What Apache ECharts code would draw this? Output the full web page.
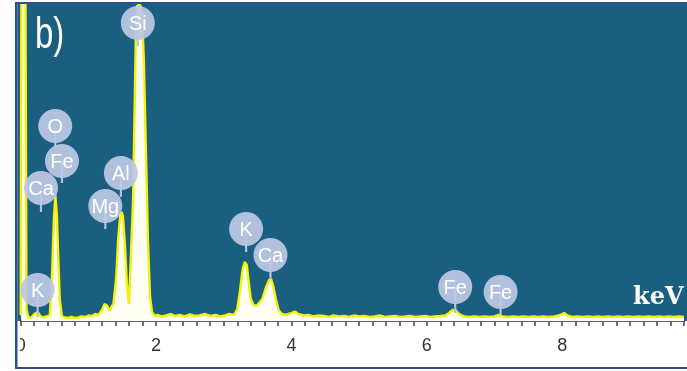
<!DOCTYPE html>
<html>
<head>
<meta charset="utf-8">
<script src="https://cdn.jsdelivr.net/npm/echarts@6/dist/echarts.min.js"></script>
<style>html,body{margin:0;padding:0;background:#fff}#c{width:687px;height:371px}</style>
</head>
<body>
<div id="c"></div>
<script>
// Spectrum (energy in keV, counts in arbitrary units)
const spectrumKeV = [0.00,0.01,0.07,0.085,0.11,0.15,0.20,0.25,0.29,0.33,0.38,0.43,0.46,0.49,0.512,0.534,0.556,0.578,0.607,0.65,0.70,0.75,0.80,0.85,0.90,0.95,1.00,1.05,1.10,1.15,1.20,1.24,1.28,1.31,1.34,1.37,1.41,1.44,1.47,1.49,1.51,1.54,1.57,1.60,1.62,1.66,1.70,1.72,1.76,1.79,1.82,1.85,1.88,1.91,1.94,1.98,2.02,2.08,2.15,2.22,2.28,2.35,2.42,2.50,2.57,2.64,2.72,2.80,2.88,2.95,3.02,3.08,3.15,3.20,3.24,3.28,3.31,3.34,3.37,3.40,3.44,3.48,3.52,3.57,3.62,3.67,3.70,3.73,3.77,3.81,3.86,3.92,3.98,4.05,4.10,4.18,4.25,4.33,4.40,4.48,4.55,4.62,4.70,4.78,4.85,4.93,5.00,5.08,5.15,5.23,5.30,5.38,5.45,5.53,5.60,5.68,5.75,5.83,5.90,5.98,6.05,6.12,6.20,6.27,6.33,6.38,6.43,6.48,6.55,6.62,6.70,6.78,6.85,6.93,7.00,7.06,7.12,7.20,7.28,7.35,7.43,7.50,7.58,7.65,7.73,7.80,7.88,7.95,8.03,8.08,8.15,8.23,8.30,8.38,8.45,8.53,8.60,8.68,8.75,8.83,8.90,8.98,9.05,9.13,9.20,9.28,9.35,9.43,9.50,9.58,9.65,9.73,9.80];
const spectrumCounts = [60,3500,3500,120,40,30,70,90,50,35,45,60,410,1010,1260,1060,610,210,50,35,30,40,30,35,45,40,55,50,70,60,110,170,150,100,140,170,420,820,1060,1090,1050,760,360,170,190,1200,2800,3150,3170,3100,2600,1700,800,250,90,50,60,45,55,70,50,60,45,65,50,55,70,50,60,45,55,70,60,120,300,520,590,560,380,220,160,150,180,220,330,410,420,350,220,110,70,60,75,95,70,55,60,45,55,50,40,55,45,50,40,55,45,50,40,45,55,40,45,50,40,45,50,40,45,50,40,45,50,55,80,110,105,70,45,40,45,40,45,40,45,60,45,40,45,40,45,40,45,40,45,40,45,55,80,55,40,45,40,45,40,45,40,45,40,45,40,45,40,45,40,45,40,45,40,45,40,45,40];

// Element labels
const labelNames = ['Si','O','Fe','Ca','Al','Mg','K','K','Ca','Fe','Fe'];
const labelKeV   = [1.73,0.51,0.61,0.30,1.48,1.25,0.25,3.33,3.69,6.42,7.09];
const labelY     = [2980,1950,1600,1330,1480,1150,310,920,660,340,290];
const labelPinY  = [2750,1750,1380,1090,1240,920,40,690,420,80,60];

// Axis
const xTickLabels = ['0','2','4','6','8'];

const chart = echarts.init(document.getElementById('c'), null, {renderer:'canvas'});
const lineData = spectrumKeV.map((k,i)=>[k, spectrumCounts[i]]);
const labelData = labelKeV.map((k,i)=>[k, labelY[i], labelPinY[i]]);

chart.setOption({
  backgroundColor:'#ffffff',
  animation:false,
  grid:{left:20.7, right:0, top:4, bottom:50, show:false},
  xAxis:{
    type:'value', min:0, max:9.8, interval:0.2,
    axisLine:{show:true, lineStyle:{color:'#333', width:1.5}},
    axisTick:{show:true, length:5, lineStyle:{color:'#444', width:1.5}},
    splitLine:{show:false},
    axisLabel:{
      color:'#333', fontSize:18, fontFamily:'Liberation Sans', margin:16,
      showMaxLabel:true, hideOverlap:false,
      formatter:function(v){
        const r = Math.round(v);
        if (Math.abs(v-r) < 1e-6) {
          const s = String(r);
          return xTickLabels.indexOf(s) >= 0 ? s : '';
        }
        return '';
      }
    }
  },
  yAxis:{type:'value', min:0, max:3170, show:false, splitLine:{show:false}},
  series:[
    {
      type:'line', data:lineData, symbol:'none', clip:true, z:3,
      lineStyle:{color:'#f2f20a', width:2.4},
      areaStyle:{color:'#fffff4', opacity:1}
    },
    {
      type:'custom', data:labelData, z:10, clip:false,
      encode:{x:0, y:1},
      renderItem:function(params, api){
        const c = api.coord([api.value(0), api.value(1)]);
        const p = api.coord([api.value(0), api.value(2)]);
        const name = labelNames[params.dataIndex];
        return {
          type:'group',
          children:[
            {type:'line', shape:{x1:c[0], y1:c[1], x2:c[0], y2:p[1]}, style:{stroke:'#b6c2de', lineWidth:2.2}},
            {type:'circle', shape:{cx:c[0], cy:c[1], r:17}, style:{fill:'rgba(188,199,228,0.93)'}},
            {type:'text', style:{text:name, x:c[0], y:c[1]+1, align:'center', verticalAlign:'middle', textAlign:'center', textVerticalAlign:'middle', fill:'#ffffff', font:'20px "Liberation Sans", Arial, sans-serif'}}
          ]
        };
      }
    }
  ],
  graphic:[
    {type:'rect', z:-100, shape:{x:17, y:4, width:670, height:317}, style:{fill:'#1a5f80'}},
    {type:'rect', z:100, shape:{x:0, y:0, width:17.5, height:371}, style:{fill:'#ffffff'}},
    {type:'rect', z:100, shape:{x:17, y:334, width:2.8, height:30}, style:{fill:'#ffffff'}},
    {type:'rect', z:101, shape:{x:15, y:2, width:2.5, height:367}, style:{fill:'#2f4e8e'}},
    {type:'rect', z:101, shape:{x:15, y:2, width:672, height:2}, style:{fill:'#2f4e8e'}},
    {type:'rect', z:101, shape:{x:15, y:367, width:672, height:2}, style:{fill:'#2f4e8e'}},
    {type:'text', z:102, x:35, y:36, scaleY:1.32, style:{text:'b)', x:0, y:0, align:'left', verticalAlign:'middle', textAlign:'left', textVerticalAlign:'middle', fill:'#ffffff', font:'33px "Liberation Sans", Arial, sans-serif'}},
    {type:'text', z:102, x:633, y:298, style:{text:'keV', x:0, y:0, align:'left', verticalAlign:'middle', textAlign:'left', textVerticalAlign:'middle', fill:'#ffffff', font:'bold 24px "DejaVu Serif", serif'}}
  ]
});
</script>
</body>
</html>
